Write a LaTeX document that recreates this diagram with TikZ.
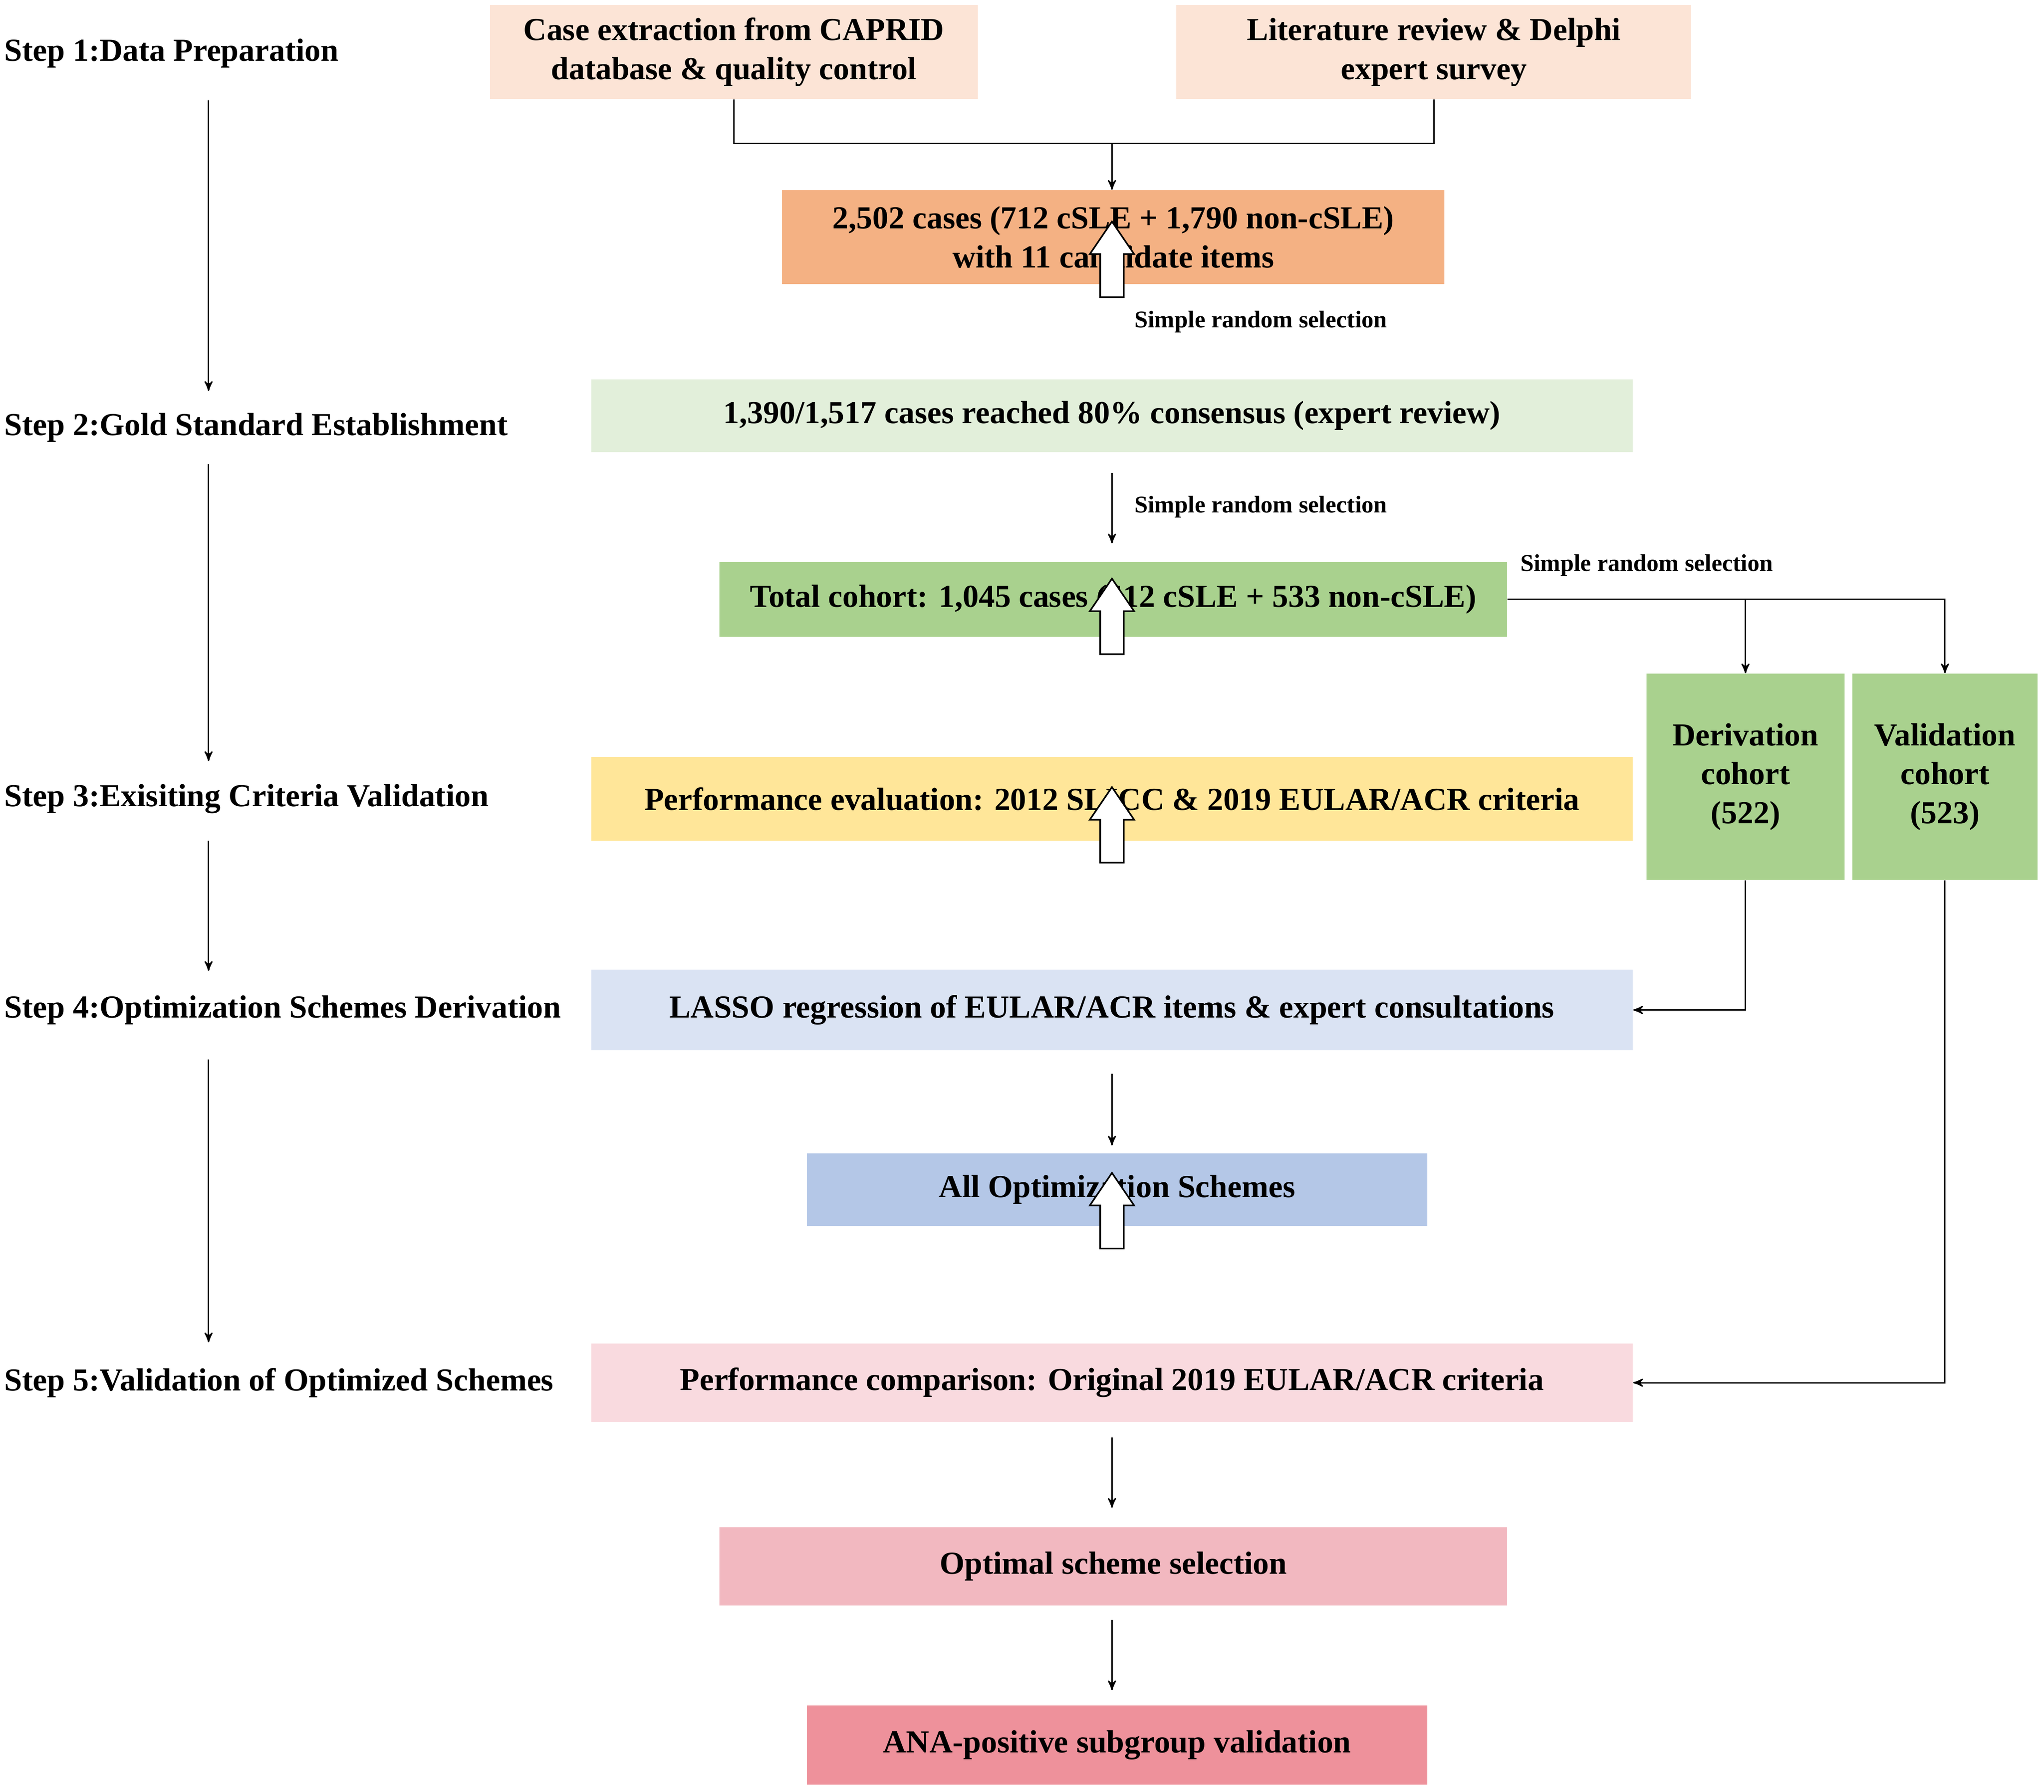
\documentclass[tikz,border=0pt]{standalone}
\usepackage{fontspec}
\setmainfont{Liberation Serif}
\usetikzlibrary{arrows,calc,positioning}

\definecolor{peach}{HTML}{FCE4D6}
\definecolor{orng}{HTML}{F4B183}
\definecolor{palegrn}{HTML}{E2EFDA}
\definecolor{grn}{HTML}{A9D18E}
\definecolor{yel}{HTML}{FFE699}
\definecolor{paleblu}{HTML}{DAE3F3}
\definecolor{blu}{HTML}{B4C7E7}
\definecolor{palepnk}{HTML}{F9DADF}
\definecolor{pnk}{HTML}{F2B8C0}
\definecolor{rose}{HTML}{EE919B}

\tikzset{
  box/.style={inner sep=0pt,align=center,font=\fontsize{14}{17}\selectfont\bfseries},
  steplabel/.style={anchor=west,inner sep=0pt,font=\fontsize{14}{17}\selectfont\bfseries},
  note/.style={anchor=west,inner sep=0pt,font=\fontsize{10.5}{12}\selectfont\bfseries},
  arr/.style={->,>=stealth',line width=0.6pt},
  hollow/.pic={\draw[line width=0.7pt,fill=white]
    (-9,0)--(-9,-33)--(-17,-33)--(0,-58)--(17,-33)--(9,-33)--(9,0)--cycle;}
}

\begin{document}
\begin{tikzpicture}[x=0.02cm,y=-0.02cm]
  \useasboundingbox (0,0) rectangle (1568,1375);

  % boxes
  \node[box,fill=peach,minimum width=374*0.02cm,minimum height=72*0.02cm] (cases) at (563,40)
    {Case extraction from CAPRID\\database \& quality control};
  \node[box,fill=peach,minimum width=395*0.02cm,minimum height=72*0.02cm] (delphi) at (1100,40)
    {Literature review \& Delphi\\expert survey};
  \node[box,fill=orng,minimum width=508*0.02cm,minimum height=72*0.02cm] (pool) at (854,182)
    {2,502 cases (712 cSLE + 1,790 non-cSLE)\\with 11 candidate items};
  \node[box,fill=palegrn,minimum width=799*0.02cm,minimum height=56*0.02cm] (gold) at (853,319)
    {1,390/1,517 cases reached 80\% consensus (expert review)};
  \node[box,fill=grn,minimum width=604*0.02cm,minimum height=57*0.02cm] (total) at (854,460)
    {Total cohort: 1,045 cases (512 cSLE + 533 non-cSLE)};
  \node[box,fill=grn,minimum width=152*0.02cm,minimum height=158*0.02cm] (deriv) at (1339,596)
    {Derivation\\cohort\\(522)};
  \node[box,fill=grn,minimum width=142*0.02cm,minimum height=158*0.02cm] (valid) at (1492,596)
    {Validation\\cohort\\(523)};
  \node[box,fill=yel,minimum width=799*0.02cm,minimum height=64*0.02cm] (perf) at (853,613)
    {Performance evaluation: 2012 SLICC \& 2019 EULAR/ACR criteria};
  \node[box,fill=paleblu,minimum width=799*0.02cm,minimum height=62*0.02cm] (lasso) at (853,775)
    {LASSO regression of EULAR/ACR items \& expert consultations};
  \node[box,fill=blu,minimum width=476*0.02cm,minimum height=56*0.02cm] (schemes) at (857,913)
    {All Optimization Schemes};
  \node[box,fill=palepnk,minimum width=799*0.02cm,minimum height=60*0.02cm] (compare) at (853,1061)
    {Performance comparison: Original 2019 EULAR/ACR criteria};
  \node[box,fill=pnk,minimum width=604*0.02cm,minimum height=60*0.02cm] (optimal) at (854,1202)
    {Optimal scheme selection};
  \node[box,fill=rose,minimum width=476*0.02cm,minimum height=61*0.02cm] (ana) at (857,1339)
    {ANA-positive subgroup validation};

  % steps
  \node[steplabel] (s1) at (3,41)   {Step 1:Data Preparation};
  \node[steplabel] (s2) at (3,328)  {Step 2:Gold Standard Establishment};
  \node[steplabel] (s3) at (3,613)  {Step 3:Exisiting Criteria Validation};
  \node[steplabel] (s4) at (3,775)  {Step 4:Optimization Schemes Derivation};
  \node[steplabel] (s5) at (3,1061) {Step 5:Validation of Optimized Schemes};
  \draw[arr] (160,77)  -- (160,300);
  \draw[arr] (160,356) -- (160,584);
  \draw[arr] (160,645) -- (160,745);
  \draw[arr] (160,813) -- (160,1030);

  % notes
  \node[note] (n1) at (870,247) {Simple random selection};
  \node[note] (n2) at (870,389) {Simple random selection};
  \node[note] (n3) at (1166,434) {Simple random selection};

  % connectors
  \coordinate (join) at (853,110);
  \draw[line width=0.6pt] (cases.south) |- (join) -| (delphi.south);
  \draw[arr] (join) -- (pool.north -| join);
  \pic at (853,228) {hollow};
  \draw[arr] (853,363) -- (853,417);
  \coordinate (split) at (1339,460);
  \draw[line width=0.6pt] (total.east) -- (split);
  \draw[arr] (split) -| (valid.north);
  \draw[arr] (split) -- (deriv.north);
  \pic at (853,502) {hollow};
  \pic at (853,662) {hollow};
  \draw[arr] (deriv.south) |- (lasso.east);
  \draw[arr] (853,824) -- (853,879);
  \pic at (853,958) {hollow};
  \draw[arr] (valid.south) |- (compare.east);
  \draw[arr] (853,1103) -- (853,1157);
  \draw[arr] (853,1243) -- (853,1297);
\end{tikzpicture}
\end{document}
